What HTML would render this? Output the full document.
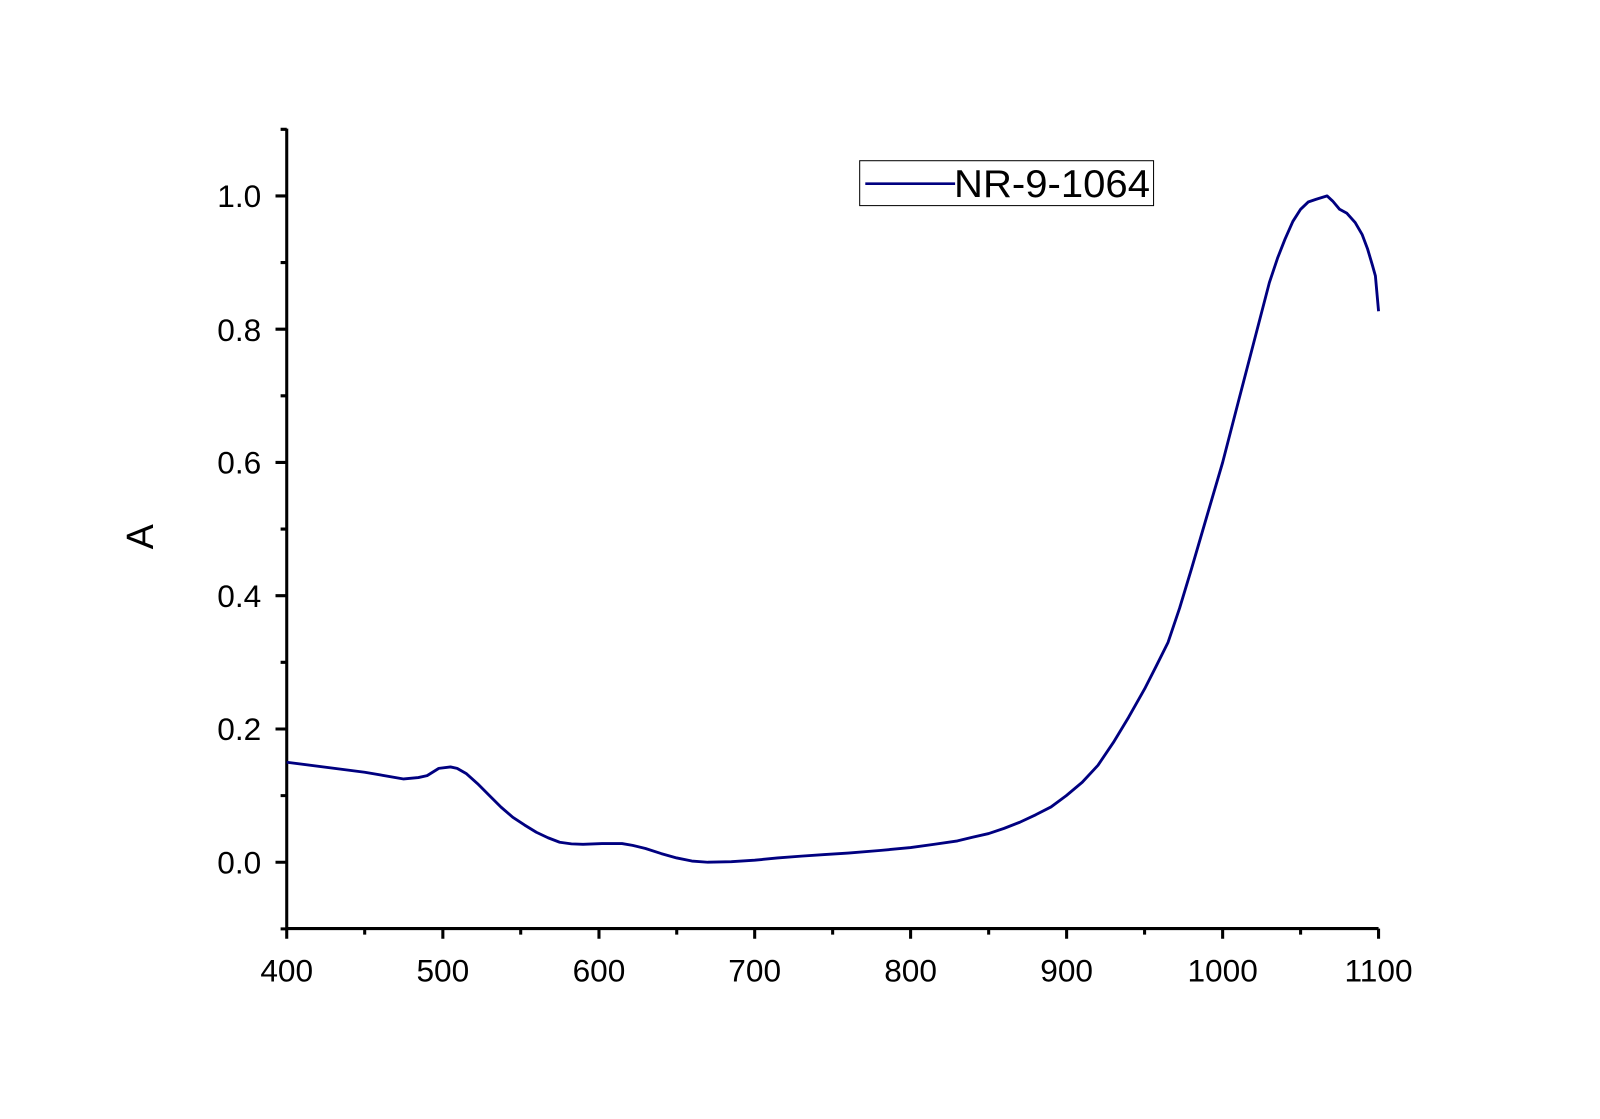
<!DOCTYPE html>
<html><head><meta charset="utf-8"><style>body{margin:0;background:#fff}</style></head>
<body>
<svg width="1600" height="1114" xmlns="http://www.w3.org/2000/svg" font-family="Liberation Sans, Arial, sans-serif">
<rect width="1600" height="1114" fill="#fff"/>
<g transform="scale(1.0204)">
<g stroke="#000" stroke-width="3" fill="none">
<line x1="281" y1="126" x2="281" y2="911"/>
<line x1="280" y1="910" x2="1351" y2="910"/>
<path d="M281 910v10M434 910v10M587 910v10M739.6 910v10M892.4 910v10M1045.3 910v10M1198.2 910v10M1351 910v10"/>
<path d="M357.4 910v6M510.3 910v6M663.2 910v6M816 910v6M968.9 910v6M1121.7 910v6M1274.6 910v6"/>
<path d="M281 192h-11M281 322.6h-11M281 453.2h-11M281 583.8h-11M281 714.4h-11M281 845h-11"/>
<path d="M281 126.7h-6M281 257.3h-6M281 387.9h-6M281 518.5h-6M281 649.1h-6M281 779.7h-6M281 910.3h-6"/>
</g>
<g font-size="31" fill="#000" text-anchor="end">
<text x="256" y="203">1.0</text>
<text x="256" y="334">0.8</text>
<text x="256" y="464">0.6</text>
<text x="256" y="595">0.4</text>
<text x="256" y="725">0.2</text>
<text x="256" y="856">0.0</text>
</g>
<g font-size="31" fill="#000" text-anchor="middle">
<text x="281" y="962">400</text>
<text x="434" y="962">500</text>
<text x="587" y="962">600</text>
<text x="739.6" y="962">700</text>
<text x="892.4" y="962">800</text>
<text x="1045.3" y="962">900</text>
<text x="1198.2" y="962">1000</text>
<text x="1351" y="962">1100</text>
</g>
<text x="0" y="0" font-size="37" transform="translate(150,526) rotate(-90)" text-anchor="middle">A</text>
<rect x="842.5" y="157.5" width="288" height="44" fill="#fff" stroke="#000" stroke-width="1"/>
<line x1="848" y1="180" x2="936" y2="180" stroke="#000080" stroke-width="2.5"/>
<text x="935" y="193" font-size="38" fill="#000" textLength="192" lengthAdjust="spacingAndGlyphs">NR-9-1064</text>
<polyline fill="none" stroke="#000080" stroke-width="2.8" stroke-linejoin="round" points="281,747 357.4,756.8 395.6,763.4 410,762 418.6,760.1 430,753 441.5,751.6 448,753 456.8,758 468,768 479.7,779.7 491,791 502.6,801 514,808.5 525.6,815.6 537,821 548.5,825.4 560,827 571.4,827.4 590,826.7 609.6,826.7 620,828.5 632.6,831.5 648,836.5 663.2,840.8 678,843.8 693.7,845 716.7,844.5 739.6,843 762,840.8 785.4,839 808,837.5 831.3,836 862,833.5 892.4,830.6 915,827.5 938.3,824.1 953,820.5 968.9,816.9 984,811.8 999.4,805.8 1015,798.5 1030,790.8 1045,779.7 1060.6,766.6 1076,750 1091.2,727.5 1106,703 1121.7,675.2 1133,653 1144.7,629.5 1156,596 1167.6,557.7 1183,505 1198.2,453.2 1213.4,394.4 1228.7,335.7 1244,276.9 1252,253 1259.3,234.4 1267,217 1274.6,205.1 1282,198 1289.9,195.3 1300.6,192 1306,197 1312.8,205.1 1320,209 1328.1,218.1 1335,230 1340.3,244.2 1345,260 1347.9,270.4 1351,305"/>
</g>
</svg>
</body></html>
